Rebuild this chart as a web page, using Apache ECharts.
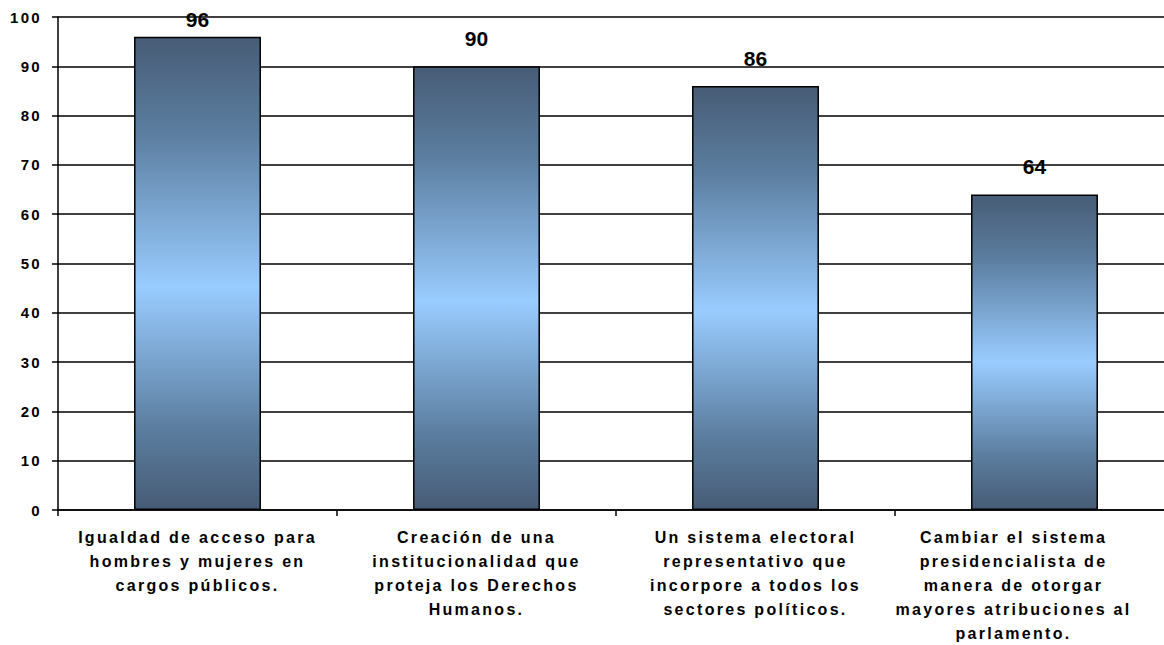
<!DOCTYPE html>
<html>
<head>
<meta charset="utf-8">
<script src="https://cdn.jsdelivr.net/npm/echarts@6/dist/echarts.min.js"></script>
<style>
html,body{margin:0;padding:0;background:#fff;overflow:hidden;width:1164px;height:645px;}
#c{width:1180px;height:645px;}
#c text{letter-spacing:2.3px;}
#c text[fill="#010101"]{letter-spacing:0;}
</style>
</head>
<body>
<div id="c"></div>
<script>
const categories = [
  "Igualdad de acceso para\nhombres y mujeres en\ncargos públicos.",
  "Creación de una\ninstitucionalidad que\nproteja los Derechos\nHumanos.",
  "Un sistema electoral\nrepresentativo que\nincorpore a todos los\nsectores políticos.",
  "Cambiar el sistema\npresidencialista de\nmanera de otorgar\nmayores atribuciones al\nparlamento."
];
const values = [96, 90, 86, 64];
const yTicks = {min: 0, max: 100, interval: 10};

const chart = echarts.init(document.getElementById('c'), null, {renderer: 'svg'});
const barColor = {
  type: 'linear', x: 0, y: 0, x2: 0, y2: 1,
  colorStops: [
    {offset: 0, color: '#475c76'},
    {offset: 0.2, color: '#5b7d9f'},
    {offset: 0.53, color: '#99ccff'},
    {offset: 0.83, color: '#5b7d9f'},
    {offset: 1, color: '#475c76'}
  ]
};
chart.setOption({
  animation: false,
  backgroundColor: '#ffffff',
  grid: {left: 58, right: 6, top: 17, bottom: 132, containLabel: false},
  xAxis: {
    type: 'category',
    data: categories.map((c, i) => i === categories.length - 1
      ? {value: c, textStyle: {padding: [0, 42, 0, 0]}} : c),
    axisLine: {lineStyle: {color: '#111', width: 2}},
    axisTick: {show: true, length: 6, lineStyle: {color: '#000', width: 1.5}},
    axisLabel: {
      interval: 0, margin: 15, color: '#000',
      fontFamily: 'Liberation Sans', fontWeight: 'bold', fontSize: 16, lineHeight: 24
    }
  },
  yAxis: {
    type: 'value', min: yTicks.min, max: yTicks.max, interval: yTicks.interval,
    axisLine: {show: true, lineStyle: {color: '#000', width: 1.5}},
    axisTick: {show: true, length: 6, lineStyle: {color: '#000', width: 1.5}},
    splitLine: {show: true, lineStyle: {color: '#000', width: 1.5}},
    axisLabel: {
      margin: 16, color: '#000',
      fontFamily: 'Liberation Sans', fontWeight: 'bold', fontSize: 15
    }
  },
  series: [{
    type: 'bar',
    barWidth: '45.5%',
    data: values.map((v, i) => i === 0 ? {value: v, label: {distance: 7}} : v),
    itemStyle: {color: barColor, borderColor: '#000', borderWidth: 1.5},
    label: {
      show: true, position: 'top', distance: 17, color: '#010101',
      fontFamily: 'Liberation Sans', fontWeight: 'bold', fontSize: 21
    }
  }]
});
</script>
</body>
</html>
